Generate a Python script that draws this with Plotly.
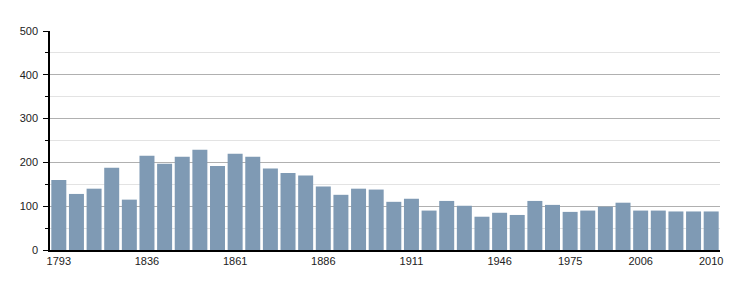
import plotly.graph_objects as go

years = ["1793", "1800", "1806", "1821", "1831", "1836", "1841", "1846", "1851", "1856",
         "1861", "1866", "1872", "1876", "1881", "1886", "1891", "1896", "1901", "1906",
         "1911", "1921", "1926", "1931", "1936", "1946", "1954", "1962", "1968", "1975",
         "1982", "1990", "1999", "2006", "2007", "2008", "2009", "2010"]
population = [160, 128, 140, 188, 115, 215, 197, 213, 229, 192,
              220, 213, 186, 176, 170, 145, 126, 140, 138, 110,
              117, 90, 112, 101, 76, 85, 80, 112, 103, 87,
              90, 99, 108, 90, 90, 88, 88, 88]
shown_labels = ["1793", "1836", "1861", "1886", "1911", "1946", "1975", "2006", "2010"]
y_ticks = [0, 100, 200, 300, 400, 500]

fig = go.Figure(go.Bar(x=years, y=population, marker=dict(color="#7f9ab4", line=dict(width=0))))

fig.update_layout(
    width=750, height=300,
    margin=dict(l=50, r=30, t=31, b=50),
    paper_bgcolor="white", plot_bgcolor="white",
    bargap=0.15,
    showlegend=False,
    font=dict(family="Liberation Sans, Arial, sans-serif", size=11, color="#222222"),
)
fig.update_xaxes(
    type="category",
    range=[-0.5, len(years) - 0.5],
    tickmode="array", tickvals=shown_labels, ticktext=shown_labels,
    showline=True, linecolor="black", linewidth=1.5,
    ticks="", showgrid=False, zeroline=False,
    tickangle=0,
)
fig.update_yaxes(
    range=[0, 500],
    tickmode="array", tickvals=y_ticks,
    showline=True, linecolor="black", linewidth=1.5,
    ticks="outside", ticklen=5, tickcolor="black", tickwidth=1,
    showgrid=True, gridcolor="#b0b0b0", gridwidth=1,
    zeroline=False,
    minor=dict(dtick=50, showgrid=True, gridcolor="#e3e3e3", gridwidth=1,
               ticks="outside", ticklen=3, tickcolor="black"),
    ticklabelstandoff=3,
)

fig.write_html("out.html")
